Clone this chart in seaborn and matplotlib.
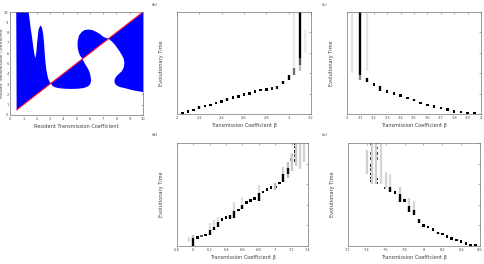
import numpy as np
import pandas as pd
import matplotlib
matplotlib.use("Agg")
import matplotlib.pyplot as plt
import seaborn as sns

sns.set_style("white")
plt.rcParams['font.family'] = ['DejaVu Sans']

# ---- (a) pairwise invasibility plot: blue regions (vertex lists)
lobe_left_x = [0.50, 0.47, 1.40, 1.48, 1.55, 1.65, 1.73, 1.82, 1.90, 1.98, 2.05, 2.15, 2.28, 2.40, 2.50, 2.56, 2.60, 2.66, 2.73, 2.82, 2.90, 3.06]
lobe_left_y = [0.50, 10.0, 10.0, 9.20, 8.45, 7.60, 6.80, 6.00, 5.50, 6.10, 7.15, 8.30, 8.70, 8.50, 7.80, 7.00, 6.20, 5.20, 4.40, 3.80, 3.43, 3.06]

lobe_bottom_x = [3.06, 3.20, 3.36, 3.70, 4.10, 4.60, 5.10, 5.55, 5.90, 6.05, 6.10, 6.05, 6.00, 5.90, 5.77, 5.60, 5.45]
lobe_bottom_y = [3.06, 2.82, 2.70, 2.60, 2.55, 2.53, 2.55, 2.62, 2.80, 3.05, 3.40, 3.80, 4.10, 4.40, 4.70, 5.05, 5.45]

lobe_upper_x = [5.45, 5.25, 5.14, 5.08, 5.09, 5.18, 5.39, 5.62, 5.89, 6.20, 6.50, 6.78, 7.00, 7.22, 7.40]
lobe_upper_y = [5.45, 5.80, 6.20, 6.70, 7.15, 7.70, 8.06, 8.25, 8.30, 8.24, 8.06, 7.85, 7.60, 7.48, 7.40]

lobe_right_x = [7.40, 7.65, 7.90, 8.15, 8.40, 8.55, 8.60, 8.55, 8.40, 8.15, 8.00, 7.88, 7.85, 7.90, 8.00, 8.25, 8.65, 9.00, 9.40, 10.0, 10.0]
lobe_right_y = [7.40, 7.15, 6.80, 6.35, 5.85, 5.45, 5.05, 4.60, 4.24, 3.95, 3.75, 3.50, 3.27, 3.05, 2.88, 2.72, 2.60, 2.48, 2.36, 2.23, 10.0]

diag_x = [0.5, 10.0]

# ---- (b)-(e) trait distributions over evolutionary time
# dots: trait value, time (% of run), shade (0 white .. 1 black)
b_trait = [2.05, 2.10, 2.15, 2.25, 2.30, 2.35, 2.40, 2.50, 2.55, 2.60, 2.65, 2.70, 2.75, 2.80, 2.85]
b_time = [0.5, 2.6, 4.0, 8.0, 9.0, 10.7, 12.0, 16.0, 17.0, 19.0, 20.0, 22.0, 23.7, 24.0, 25.0]
b_shade = [1, 1, 1, 1, 1, 1, 1, 1, 1, 1, 1, 1, 1, 1, 0.9]
# streaks: trait value, start, end, shade
b_st_trait = [2.20, 2.45, 2.90, 2.95, 3.00, 3.05, 3.10, 3.10, 3.10, 3.05, 3.15]
b_st_t0 = [5.0, 12.5, 25.0, 29.5, 33.0, 38.0, 42.0, 48.0, 55.0, 45.0, 60.0]
b_st_t1 = [8.0, 15.5, 27.5, 32.0, 38.0, 45.0, 48.0, 55.0, 100.0, 100.0, 82.0]
b_st_shade = [1, 1, 0.9, 1, 1, 0.6, 0.3, 0.7, 1.0, 0.07, 0.06]

c_trait = [3.20, 3.30, 3.35, 3.40, 3.45, 3.55, 3.60, 3.65, 3.70, 3.75, 3.80, 3.85, 3.90, 3.95]
c_time = [29.0, 22.0, 20.0, 18.0, 15.6, 10.7, 9.0, 7.5, 5.8, 4.2, 2.6, 2.0, 1.0, 0.4]
c_shade = [1, 1, 1, 1, 1, 1, 1, 1, 1, 1, 1, 1, 1, 1]
c_st_trait = [3.04, 3.15, 3.10, 3.10, 3.15, 3.25, 3.50]
c_st_t0 = [40.0, 42.0, 33.0, 38.0, 31.0, 23.0, 12.5]
c_st_t1 = [100.0, 100.0, 38.0, 100.0, 35.0, 27.5, 15.0]
c_st_shade = [0.1, 0.1, 0.5, 1.0, 1, 1, 1]

d_trait = [6.05, 6.10, 6.15, 6.35, 6.40, 6.55, 6.65, 6.70, 6.75, 6.85, 6.90, 6.95, 7.00, 7.05, 7.20,
           7.25, 7.25, 7.25, 7.25, 7.25, 7.30, 7.30, 7.30, 7.30, 7.30, 7.35, 7.35, 7.35, 7.35]
d_time = [8.4, 9.7, 10.6, 25.8, 27.7, 35.0, 42.0, 44.0, 46.0, 52.5, 54.8, 56.8, 57.4, 61.0, 84.0,
          99.0, 96.0, 92.0, 88.0, 83.0, 97.0, 92.0, 87.0, 83.0, 78.0, 96.0, 92.0, 87.0, 84.0]
d_shade = [1, 0.7, 1, 1, 1, 1, 1, 1, 1, 1, 1, 1, 1, 1, 0.5,
           1, 0.9, 1, 0.8, 1, 1, 0.7, 1, 0.9, 0.6, 1, 0.7, 1, 0.9]
d_st_trait = [6.00, 6.00, 5.95, 6.20, 6.20, 6.25, 6.25, 6.30, 6.30, 6.45, 6.50, 6.50, 6.60, 6.60,
              6.80, 6.80, 7.00, 7.10, 7.10, 7.15, 7.15, 7.20, 7.25, 7.30, 7.35]
d_st_t0 = [0.0, 7.5, 4.0, 10.6, 16.0, 15.5, 18.7, 18.4, 23.0, 26.0, 27.0, 33.5, 36.0, 39.7,
           44.0, 51.6, 54.0, 62.0, 70.0, 66.0, 70.0, 73.0, 78.0, 75.0, 82.0]
d_st_t1 = [7.5, 11.0, 9.0, 16.0, 22.0, 18.7, 25.0, 23.0, 28.0, 30.0, 33.5, 43.0, 39.7, 48.0,
           51.6, 59.0, 61.0, 70.0, 77.0, 82.0, 76.0, 90.0, 100.0, 100.0, 100.0]
d_st_shade = [1, 0.3, 0.15, 1, 0.15, 1, 0.15, 1, 0.12, 1, 1, 0.15, 1, 0.12,
              1, 0.15, 0.3, 1, 0.2, 0.3, 0.9, 0.25, 0.25, 0.2, 0.2]

e_trait = [7.60, 7.70, 7.80, 8.00, 8.05, 8.10, 8.20, 8.25, 8.30, 8.35, 8.40, 8.45, 8.50, 8.55,
           7.40, 7.40, 7.40, 7.40, 7.45, 7.45, 7.45, 7.45, 7.45, 7.45, 7.45, 7.45,
           7.50, 7.50, 7.50, 7.50, 7.50, 7.50, 7.55, 7.55, 7.55]
e_time = [56.5, 52.0, 44.0, 20.0, 18.5, 16.0, 11.5, 9.0, 7.3, 5.8, 4.2, 2.6, 1.0, 0.4,
          84.0, 79.0, 76.0, 74.0, 99.0, 90.0, 85.0, 78.0, 74.0, 70.0, 66.0, 63.0,
          100.0, 95.0, 90.0, 85.0, 65.0, 61.0, 99.0, 94.0, 89.0]
e_shade = [1, 1, 1, 1, 1, 1, 1, 1, 1, 1, 1, 1, 1, 1,
           0.8, 1, 0.9, 1, 0.8, 0.7, 0.9, 1, 0.8, 1, 0.9, 1,
           1, 0.8, 0.9, 0.7, 1, 0.9, 0.8, 0.9, 0.7]
e_st_trait = [7.40, 7.45, 7.50, 7.55, 7.60, 7.65, 7.65, 7.75, 7.75,
              7.85, 7.85, 7.90, 7.90, 7.95, 8.15]
e_st_t0 = [70.0, 60.0, 60.0, 60.0, 55.0, 52.0, 57.0, 42.5, 50.5,
           33.0, 39.0, 30.0, 34.5, 22.0, 11.5]
e_st_t1 = [93.0, 100.0, 100.0, 100.0, 72.0, 57.0, 70.0, 50.5, 57.0,
           39.0, 47.0, 34.5, 44.0, 26.5, 13.7]
e_st_shade = [0.22, 0.22, 0.22, 0.18, 0.18, 1, 0.15, 1, 0.2,
              1, 0.2, 1, 0.2, 1, 1]

W, H = 485, 264
fig = plt.figure(figsize=(W / 100, H / 100), dpi=100)


def box(l, t, r, b):
    return fig.add_axes([l / W, (H - b) / H, (r - l) / W, (b - t) / H])


def style(ax):
    for s in ax.spines.values():
        s.set_color('0.45')
        s.set_linewidth(0.5)
    ax.tick_params(direction='in', length=1.3, width=0.4, color='0.45', labelsize=2.6,
                   labelcolor='0.3', pad=1.5, top=True, right=True)


LBL = dict(fontsize=3.6, color='0.25')

# panel a
ax = box(10, 12, 143, 115)
for xs, ys in [(lobe_left_x, lobe_left_y), (lobe_bottom_x, lobe_bottom_y),
               (lobe_upper_x, lobe_upper_y), (lobe_right_x, lobe_right_y)]:
    ax.fill(xs, ys, color='#0000ff', lw=0)
sns.lineplot(x=diag_x, y=diag_x, color='#ff1030', lw=0.8, ax=ax)
ax.set_xlim(0, 10)
ax.set_ylim(0, 10)
ax.set_xticks(range(11))
ax.set_yticks(range(11))
style(ax)
ax.tick_params(axis='y', pad=1.0)
ax.set_xlabel('Resident Transmission Coefficient', labelpad=2, **LBL)
ax.set_ylabel('Mutant Transmission Coefficient', fontsize=3.2, color='0.25')
ax.yaxis.set_label_coords(-0.043, 0.5)

cmap = plt.get_cmap('Greys')
panels = [
    ('(b)', (177, 12, 311, 114), (2, 3.2), np.arange(2, 3.21, 0.2), ['2', '2.2', '2.4', '2.6', '2.8', '3', '3.2'],
     b_trait, b_time, b_shade, b_st_trait, b_st_t0, b_st_t1, b_st_shade, (152, 5)),
    ('(c)', (347, 12, 481, 114), (3, 4), np.arange(3, 4.01, 0.1), ['3', '3.1', '3.2', '3.3', '3.4', '3.5', '3.6', '3.7', '3.8', '3.9', '4'],
     c_trait, c_time, c_shade, c_st_trait, c_st_t0, c_st_t1, c_st_shade, (322, 5)),
    ('(d)', (177, 143, 308, 246), (5.8, 7.4), np.arange(5.8, 7.41, 0.2), ['5.8', '6', '6.2', '6.4', '6.6', '6.8', '7', '7.2', '7.4'],
     d_trait, d_time, d_shade, d_st_trait, d_st_t0, d_st_t1, d_st_shade, (152, 135)),
    ('(e)', (348, 143, 480, 246), (7.2, 8.6), np.arange(7.2, 8.61, 0.2), ['7.2', '7.4', '7.6', '7.8', '8', '8.2', '8.4', '8.6'],
     e_trait, e_time, e_shade, e_st_trait, e_st_t0, e_st_t1, e_st_shade, (322, 135)),
]

for tag, pos, xlim, xt, xtl, tr, tm, sh, st_tr, st0, st1, st_sh, tagpos in panels:
    ax = box(*pos)
    df = pd.DataFrame({'trait': tr, 'time': tm, 'shade': sh})
    ax.vlines(st_tr, st0, st1, colors=[cmap(0.1 + 0.9 * s) if s < 1 else 'black' for s in st_sh],
              lw=1.7)
    sns.scatterplot(data=df, x='trait', y='time', hue='shade', palette='Greys', hue_norm=(-0.1, 1),
                    marker='s', s=3.5, linewidth=0, legend=False, ax=ax)
    ax.set_xlim(*xlim)
    ax.set_ylim(0, 100)
    ax.set_xticks(xt)
    ax.set_xticklabels(xtl)
    ax.set_yticks([0, 20, 40, 60, 80, 100])
    ax.set_yticklabels([])
    style(ax)
    ax.set_xlabel('Transmission Coefficient β', labelpad=2, **LBL)
    ax.set_ylabel('Evolutionary Time', labelpad=8, **LBL)
    fig.text(tagpos[0] / W, 1 - tagpos[1] / H, tag, fontsize=3.2, color='0.25', va='center')

fig.savefig('out.png', dpi=100)
